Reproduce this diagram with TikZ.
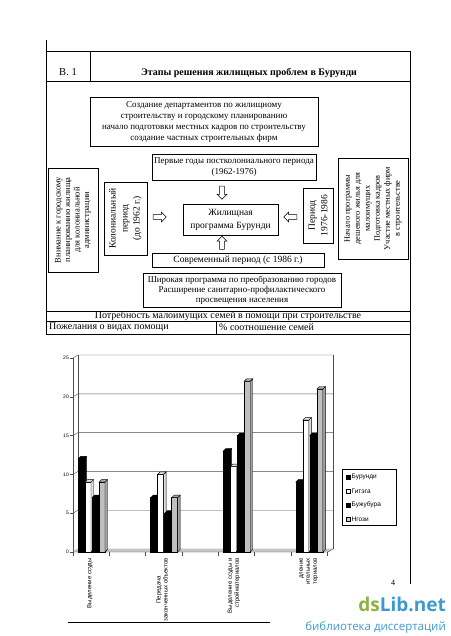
\documentclass[tikz,border=0pt]{standalone}
\usepackage{fontspec}
\setmainfont{Liberation Serif}
\newfontfamily\chartfont{Liberation Sans}
\newfontfamily\wmfont{Open Sans}
\usetikzlibrary{shapes.arrows,calc}
\definecolor{wmgreen}{HTML}{8BB33F}
\definecolor{wmblue}{HTML}{3D9AD1}
\newcommand\chartbar[4]{%
  \pgfmathsetmacro\bt{552-7.76*#2}%
  \filldraw[fill=#3, barline] (#1,552) rectangle (#1+6,\bt);
  \filldraw[fill=#4, barline] (#1+6,552) -- (#1+8.5,549.5) -- (#1+8.5,\bt-2.5) -- (#1+6,\bt) -- cycle;
  \filldraw[fill=#4, barline] (#1,\bt) -- (#1+2.5,\bt-2.5) -- (#1+8.5,\bt-2.5) -- (#1+6,\bt) -- cycle;
}
\begin{document}
\begin{tikzpicture}[x=1pt,y=-1pt,
  box/.style={draw, line width=0.6pt, inner sep=0pt, align=center},
  rbox/.style={box, rotate=90},
  harrow/.style={draw, single arrow, single arrow head extend=2.5pt, single arrow head indent=0pt, inner sep=2.2pt, minimum height=13pt, line width=0.5pt},
  rule/.style={line width=0.6pt},
  grid/.style={line width=0.4pt, black!70},
  barline/.style={line width=0.4pt},
  fs/.style={font=\fontsize{9}{11}\selectfont},
  cf/.style={font=\chartfont\fontsize{5}{6}\selectfont},
  xl/.style={font=\chartfont\fontsize{6}{7}\selectfont, rotate=90, anchor=east, inner sep=1pt},
  ]
\useasboundingbox (0,0) rectangle (450,636);
% frame
\draw[rule] (46,40) -- (46,334);
\draw[rule] (410,51) -- (410,584);
\draw[rule] (46,51) -- (410,51);
\draw[rule] (46,81) -- (410,81);
\draw[rule] (90,51) -- (90,81);
\node[font=\fontsize{10.5}{12}\selectfont] (num) at (68,72) {В. 1};
\node[font=\bfseries\fontsize{10}{12}\selectfont] (title) at (249,73) {Этапы решения жилищных проблем в Бурунди};
% boxes
\node[box, fs, minimum width=228, minimum height=49] (b1) at (204,121.5)
  {Создание департаментов по жилищному\\строительству и городскому планированию\\начало подготовки местных кадров по строительству\\создание частных строительных фирм};
\node[box, fs, minimum width=164, minimum height=26] (first) at (234,167)
  {Первые годы постколониального периода\\(1962-1976)};
\node[box, font=\fontsize{9.5}{13}\selectfont, minimum width=95, minimum height=31] (prog) at (230.5,219.5)
  {Жилищная\\программа Бурунди};
\node[box, font=\fontsize{9.5}{11}\selectfont, minimum width=172, minimum height=14] (modern) at (238,260)
  {Современный период (с 1986 г.)};
\node[box, font=\fontsize{9}{10}\selectfont, minimum width=198, minimum height=34] (wide) at (242,290.5)
  {Широкая программа по преобразованию городов\\Расширение санитарно-профилактического\\просвещения населения};
\node[rbox, font=\fontsize{8.5}{9.5}\selectfont, minimum width=104, minimum height=50] (leftbox) at (73,220)
  {Внимание к городскому\\планированию жилища\\для колониальной\\администрации};
\node[rbox, font=\fontsize{9.5}{12}\selectfont, minimum width=73, minimum height=43] (colon) at (125.5,218.5)
  {Колониальный\\период\\(до 1962 г.)};
\node[rbox, font=\fontsize{9.5}{12.5}\selectfont, minimum width=55, minimum height=30] (period) at (318,215.5)
  {Период\\1976-1986};
\node[rbox, font=\fontsize{8.3}{10}\selectfont, minimum width=101, minimum height=70] (rightbox) at (373,208.5)
  {Начало программы\\дешевого жилья для\\малоимущих\\Подготовка кадров\\Участие местных фирм\\в строительстве};
% hollow arrows
\node[harrow, shape border rotate=270] (a1) at (222,191.5) {};
\node[harrow, shape border rotate=90] (a2) at (222,244) {};
\node[harrow, shape border rotate=0] (a3) at (158.5,217) {};
\node[harrow, shape border rotate=180] (a4) at (291.5,217) {};
% table
\draw[rule] (46,311) -- (410,311);
\draw[rule] (46,321) -- (410,321);
\draw[rule] (46,334) -- (410,334);
\draw[rule] (216,321) -- (216,334);
\node[font=\fontsize{10}{11}\selectfont, inner sep=0pt] (need) at (228,316) {Потребность малоимущих семей в помощи при строительстве};
\node[font=\fontsize{10}{11}\selectfont, inner sep=0pt, anchor=west] (wish) at (49,327.5) {Пожелания о видах помощи};
\node[font=\fontsize{10}{11}\selectfont, inner sep=0pt, anchor=west] (pct) at (219,327.5) {\% соотношение семей};
% chart walls
\foreach \v in {0,5,...,25} {
  \draw[grid] (73,{552-7.76*\v}) -- (78,{549-7.76*\v}) -- (333,{549-7.76*\v});
  \draw[grid] (70,{552-7.76*\v}) -- (73,{552-7.76*\v});
  \node[cf, anchor=east, inner sep=1pt] at (70,{552-7.76*\v}) {\v};
}
\draw[grid] (78,355) -- (78,549);
\draw[grid] (333,355) -- (333,549);
\draw[grid] (73,358) -- (73,552);
\fill[gray!45] (73,552) -- (78,549) -- (333,549) -- (328,552) -- cycle;
\draw[grid] (73,552) -- (328,552) -- (333,549);
\foreach \i in {0,...,7} \draw[grid] ({73+36.3*\i},552) -- ({73+36.3*\i},556);
% bars
\chartbar{78}{12}{black}{black}
\chartbar{85}{9}{white}{gray!25}
\chartbar{92}{7}{black}{black}
\chartbar{99}{9}{gray!50}{gray!70}
\chartbar{150.6}{7}{black}{black}
\chartbar{157.6}{10}{white}{gray!25}
\chartbar{164.6}{5}{black}{black}
\chartbar{171.6}{7}{gray!50}{gray!70}
\chartbar{223.2}{13}{black}{black}
\chartbar{230.2}{11}{white}{gray!25}
\chartbar{237.2}{15}{black}{black}
\chartbar{244.2}{22}{gray!50}{gray!70}
\chartbar{295.8}{9}{black}{black}
\chartbar{302.8}{17}{white}{gray!25}
\chartbar{309.8}{15}{black}{black}
\chartbar{316.8}{21}{gray!50}{gray!70}
% x labels
\node[xl, align=center] (l1) at (90,557) {Выделение ссуды};
\node[xl, align=center] (l2) at (162,557) {Передача\\законченных объектов};
\node[xl, align=right] (l3) at (234,557) {Выделение ссуды и\\стройматериалов};
\node[xl, align=right] (l4) at (309,557) {дление\\ительных\\териалов};
% legend
\node[draw, line width=0.4pt, minimum width=54, minimum height=56, inner sep=0pt] (leg) at (369,497) {};
\foreach \y/\t/\c in {477/Бурунди/black, 491/Гитэга/white, 505/Бужубура/black, 519/Нгози/gray!40} {
  \filldraw[fill=\c, line width=0.4pt] (346,\y-2) rectangle (350,\y+2);
  \node[font=\chartfont\fontsize{6.5}{7}\selectfont, anchor=west, inner sep=0pt] at (351.5,\y) {\t};
}
% page number & bottom rule
\node[font=\fontsize{8}{9}\selectfont] (page) at (393,583) {4};
\draw[line width=0.5pt] (68,622) -- (270,622);
% watermark
\node[font=\wmfont\bfseries\fontsize{19}{20}\selectfont, anchor=east, inner sep=0pt] (wm1) at (446,604) {\textcolor{wmgreen}{ds}\textcolor{wmblue}{Lib.net}};
\node[font=\wmfont\fontsize{11.5}{13}\selectfont, anchor=east, inner sep=0pt, text=wmblue] (wm2) at (446,627) {библиотека диссертаций};
\end{tikzpicture}
\end{document}
